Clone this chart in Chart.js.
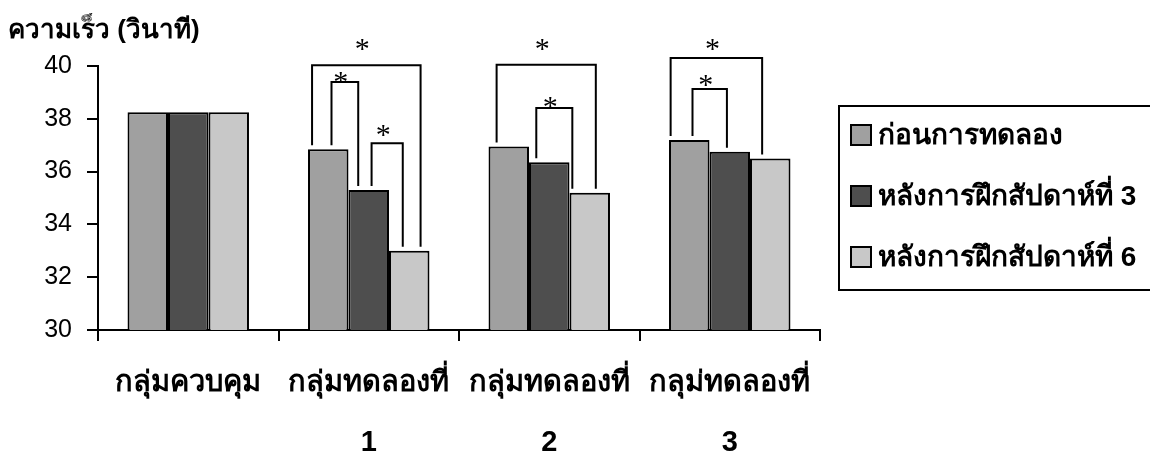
<!DOCTYPE html>
<html>
<head>
<meta charset="utf-8">
<script src="https://cdn.jsdelivr.net/npm/chart.js@4.4.0/dist/chart.umd.min.js"></script>
<style>
  html, body { margin: 0; padding: 0; background: #fff; }
  #wrap { width: 1150px; height: 459px; }
</style>
</head>
<body>
<div id="wrap"><canvas id="speedChart"></canvas></div>
<script>
// categories and series
const groupLabels = [["กลุ่มควบคุม"], ["กลุ่มทดลองที่", "1"], ["กลุ่มทดลองที่", "2"], ["กลุม่ทดลองที่", "3"]];
const seriesNames = ["ก่อนการทดลอง", "หลังการฝึกสัปดาห์ที่ 3", "หลังการฝึกสัปดาห์ที่ 6"];
const beforeTest = [38.25, 36.85, 36.95, 37.2];
const afterWeek3 = [38.25, 35.3, 36.35, 36.75];
const afterWeek6 = [38.25, 33.0, 35.2, 36.5];
const yTicks = [30, 32, 34, 36, 38, 40];

// significance brackets: group, left leg / right leg (bar index + fraction), top value, star value
const sigGroup = [1, 1, 1, 2, 2, 3, 3];
const sigFrom  = [0.1, 0.58, 1.57, 0.2, 1.18, 0.04, 0.58];
const sigTo    = [2.78, 1.24, 2.34, 2.65, 2.07, 2.3, 1.43];
const sigTop   = [40.03, 39.39, 37.07, 40.05, 38.41, 40.3, 39.13];
const sigStar  = [40.87, 39.62, 37.61, 40.87, 38.67, 40.87, 39.51];

const barColors = ["#a0a0a0", "#4e4e4e", "#c8c8c8"];
const thaiFont = "'Liberation Sans', Arial, sans-serif";

const brackets = {
    id: "brackets",
    afterDraw(chart) {
        const ctx = chart.ctx;
        const y = chart.scales.y;
        const legX = (g, pos) => {
            const i = Math.min(Math.floor(pos), 2);
            const bar = chart.getDatasetMeta(i).data[g];
            return { x: bar.x - bar.width / 2 + (pos - i) * bar.width, top: bar.y };
        };
        ctx.save();
        ctx.strokeStyle = "#000";
        ctx.lineWidth = 2;
        ctx.fillStyle = "#000";
        ctx.font = "30px 'Liberation Serif', serif";
        ctx.textAlign = "center";
        ctx.textBaseline = "middle";
        sigGroup.forEach((g, k) => {
            const a = legX(g, sigFrom[k]);
            const b = legX(g, sigTo[k]);
            const top = y.getPixelForValue(sigTop[k]);
            ctx.beginPath();
            ctx.moveTo(a.x, a.top - 4);
            ctx.lineTo(a.x, top);
            ctx.lineTo(b.x, top);
            ctx.lineTo(b.x, b.top - 4);
            ctx.stroke();
            ctx.fillText("*", (a.x + b.x) / 2 - 4, y.getPixelForValue(sigStar[k]) + 7);
        });
        ctx.restore();
    }
};

const boxedLegend = {
    id: "boxedLegend",
    afterDraw(chart) {
        const ctx = chart.ctx;
        ctx.save();
        ctx.strokeStyle = "#000";
        ctx.lineWidth = 2;
        ctx.strokeRect(839, 106, 320, 184);
        ctx.font = "bold 28px " + thaiFont;
        ctx.textBaseline = "middle";
        chart.data.datasets.forEach((ds, i) => {
            const cy = 135 + i * 61;
            ctx.fillStyle = ds.backgroundColor;
            ctx.fillRect(851, cy - 10, 20, 20);
            ctx.strokeRect(851, cy - 10, 20, 20);
            ctx.fillStyle = "#000";
            ctx.fillText(ds.label, 878, cy + 1);
        });
        ctx.restore();
    }
};

new Chart(document.getElementById("speedChart"), {
    type: "bar",
    data: {
        labels: groupLabels,
        datasets: [
            { label: seriesNames[0], data: beforeTest, backgroundColor: barColors[0] },
            { label: seriesNames[1], data: afterWeek3, backgroundColor: barColors[1] },
            { label: seriesNames[2], data: afterWeek6, backgroundColor: barColors[2] },
        ].map(d => Object.assign(d, {
            borderColor: "#000",
            borderWidth: 2,
            barPercentage: 1,
            categoryPercentage: 0.673,
        }))
    },
    options: {
        responsive: true,
        maintainAspectRatio: false,
        animation: false,
        layout: { padding: { left: 8, right: 330, top: 0, bottom: 0 } },
        plugins: {
            legend: { display: false },
            tooltip: { enabled: false },
            title: {
                display: true,
                text: "ความเร็ว (วินาที)",
                align: "start",
                color: "#000",
                font: { family: thaiFont, size: 26, weight: "bold", lineHeight: 1 },
                padding: { top: 18, bottom: 22 },
            },
        },
        scales: {
            x: {
                grid: { drawOnChartArea: false, drawTicks: true, tickLength: 11, color: "#000", lineWidth: 2 },
                border: { color: "#000", width: 2 },
                ticks: {
                    color: "#000",
                    padding: 12,
                    maxRotation: 0,
                    font: { family: thaiFont, size: 29, weight: "bold", lineHeight: 2.07 },
                },
                afterFit(scale) { scale.height = 129; },
            },
            y: {
                min: yTicks[0],
                max: yTicks[yTicks.length - 1],
                afterBuildTicks(scale) { scale.ticks = yTicks.map(v => ({ value: v })); },
                grid: { drawOnChartArea: false, drawTicks: true, tickLength: 11, color: "#000", lineWidth: 2 },
                border: { color: "#000", width: 2 },
                ticks: {
                    color: "#000",
                    padding: 15,
                    font: { family: thaiFont, size: 25 },
                },
                afterFit(scale) { scale.width = 90; },
            },
        },
    },
    plugins: [brackets, boxedLegend],
});
</script>
</body>
</html>
